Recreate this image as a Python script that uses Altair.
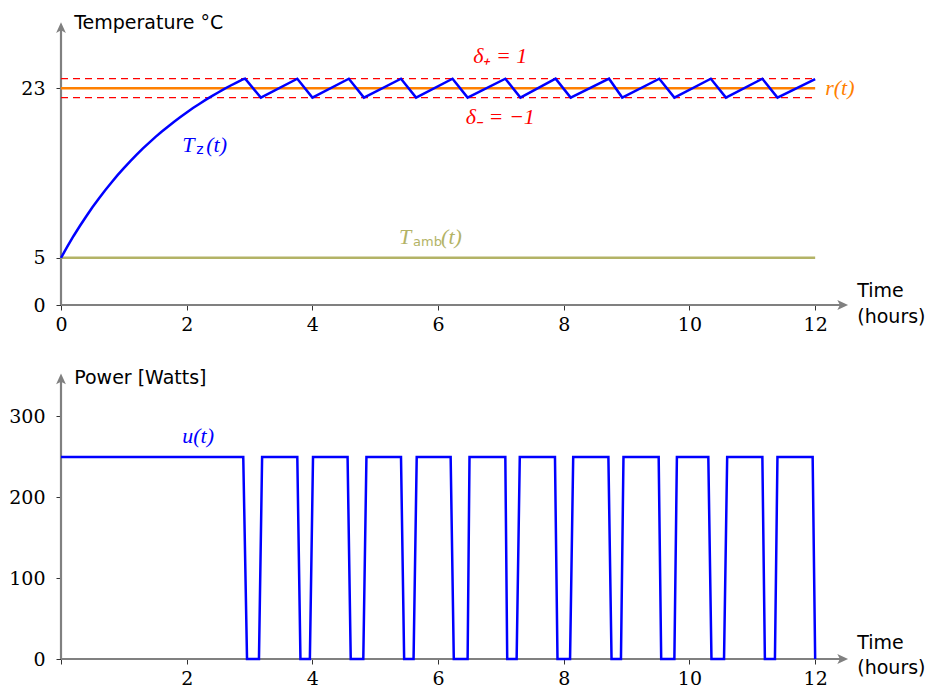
import altair as alt
import pandas as pd

# ---------------- data ----------------
temp_time = [0, 0.1, 0.2, 0.3, 0.4, 0.5, 0.6, 0.7, 0.8, 0.9, 1.0, 1.1, 1.2, 1.3, 1.4,
             1.5, 1.6, 1.7, 1.8, 1.9, 2.0, 2.1, 2.2, 2.3, 2.4, 2.5, 2.6, 2.7, 2.8, 2.9, 2.93,
             3.18, 3.76, 4.00, 4.58, 4.82, 5.41, 5.65, 6.23, 6.47, 7.07, 7.31,
             7.87, 8.11, 8.72, 8.93, 9.52, 9.76, 10.34, 10.58, 11.16, 11.40, 12.0]
temp_value = [5, 6.18, 7.32, 8.38, 9.39, 10.36, 11.28, 12.15, 12.97, 13.77, 14.52, 15.24,
              15.92, 16.58, 17.20, 17.80, 18.37, 18.91, 19.44, 19.94, 20.42, 20.89, 21.32,
              21.75, 22.15, 22.54, 22.92, 23.28, 23.62, 23.95, 24,
              22, 24, 22, 24, 22, 24, 22, 24, 22, 24, 22,
              24, 22, 24, 22, 24, 22, 24, 22, 24, 22, 23.95]

power_time = [0, 2.90, 2.96, 3.15, 3.20, 3.76, 3.81, 3.96, 4.01, 4.56, 4.61, 4.81, 4.86,
              5.41, 5.46, 5.61, 5.66, 6.20, 6.25, 6.47, 6.50, 7.07, 7.10, 7.25, 7.30,
              7.86, 7.90, 8.10, 8.15, 8.71, 8.76, 8.91, 8.95, 9.51, 9.55, 9.76, 9.80,
              10.30, 10.35, 10.55, 10.60, 11.16, 11.20, 11.36, 11.40, 11.96, 12.0]
power_value = [250, 250, 0, 0, 250, 250, 0, 0, 250, 250, 0, 0, 250,
               250, 0, 0, 250, 250, 0, 0, 250, 250, 0, 0, 250,
               250, 0, 0, 250, 250, 0, 0, 250, 250, 0, 0, 250,
               250, 0, 0, 250, 250, 0, 0, 250, 250, 0]

x_ticks = [0, 2, 4, 6, 8, 10, 12]
temp_ticks = [0, 5, 23]
power_ticks = [0, 100, 200, 300]
t_end = 12
t_amb = 5
t_ref = 23
delta_plus = 1
delta_minus = -1

# ---------------- style ----------------
GRAY = "#808080"
BLUE = "#0000ff"
ORANGE = "#ff8000"
RED = "#ff0000"
OLIVE = "#b3b366"
SERIF = "DejaVu Serif"
MATH = "Liberation Serif"
SANS = "DejaVu Sans"

W = 861
X_MAX = 13.7
TOP_H = 297
TOP_MAX = 31.5
BOT_H = 291
BOT_MAX = 360

xscale = alt.Scale(domain=[0, X_MAX], nice=False, zero=False)


def make_xaxis(hide_zero):
    kw = dict(title=None, values=x_ticks, domain=False, grid=False, tickColor="#333333",
              tickWidth=1, tickSize=5, labelFont=SERIF, labelFontSize=19, labelColor="black",
              labelPadding=5, labelFlush=False)
    if hide_zero:
        kw["labelExpr"] = "datum.value == 0 ? '' : datum.label"
    return alt.Axis(**kw)


def make_yaxis(vals):
    return alt.Axis(title=None, values=vals, domain=False, grid=False, tickColor="#333333",
                    tickWidth=1, tickSize=5, labelFont=SERIF, labelFontSize=19,
                    labelColor="black", labelPadding=11)


def panel(ymax, yticks, hide_zero):
    xaxis = make_xaxis(hide_zero)
    yaxis = make_yaxis(yticks)
    ysc = alt.Scale(domain=[0, ymax], nice=False, zero=False)

    def X(f):
        return alt.X(f, type="quantitative", scale=xscale, axis=xaxis)

    def Y(f):
        return alt.Y(f, type="quantitative", scale=ysc, axis=yaxis)

    return X, Y


def text_layer(X, Y, x, y, s, color, font, size, style="normal", align="left", dx=0, dy=0):
    df = pd.DataFrame({"x": [x], "y": [y], "s": [s]})
    return alt.Chart(df).mark_text(align=align, baseline="middle", font=font, fontSize=size,
                                   fontStyle=style, color=color, dx=dx, dy=dy).encode(
        x=X("x"), y=Y("y"), text="s:N")


UP = "M0,-1L0.75,0.65L0,0.25L-0.75,0.65Z"
RIGHT = "M1,0L-0.65,0.75L-0.25,0L-0.65,-0.75Z"


def axes_lines(X, Y, ytip, yhead):
    rules = pd.DataFrame({"x": [0, 0], "x2": [12.42, 0], "y": [0, 0], "y2": [0, ytip]})
    r = alt.Chart(rules).mark_rule(color=GRAY, strokeWidth=2.2).encode(
        x=X("x"), x2="x2", y=Y("y"), y2="y2")
    hx = pd.DataFrame({"x": [12.42], "y": [0]})
    h1 = alt.Chart(hx).mark_point(shape=RIGHT, filled=True, color=GRAY, opacity=1,
                                  size=170, strokeWidth=0).encode(x=X("x"), y=Y("y"))
    hy = pd.DataFrame({"x": [0], "y": [yhead]})
    h2 = alt.Chart(hy).mark_point(shape=UP, filled=True, color=GRAY, opacity=1,
                                  size=170, strokeWidth=0).encode(x=X("x"), y=Y("y"))
    return [r, h1, h2]


# ---------------- top panel ----------------
X1, Y1 = panel(TOP_MAX, temp_ticks, False)
top_layers = axes_lines(X1, Y1, 29.3, 29.3)

hl = pd.DataFrame({"x": [0, 0, 0, 0], "x2": [t_end] * 4,
                   "y": [t_amb, t_ref, t_ref + delta_plus, t_ref + delta_minus],
                   "k": ["amb", "ref", "dp", "dm"]})
top_layers.append(alt.Chart(hl[hl.k == "amb"]).mark_rule(color=OLIVE, strokeWidth=2.5).encode(
    x=X1("x"), x2="x2", y=Y1("y")))
top_layers.append(alt.Chart(hl[hl.k.isin(["dp", "dm"])]).mark_rule(
    color=RED, strokeWidth=1.2, strokeDash=[7, 5]).encode(x=X1("x"), x2="x2", y=Y1("y")))
top_layers.append(alt.Chart(hl[hl.k == "ref"]).mark_rule(color=ORANGE, strokeWidth=2.5).encode(
    x=X1("x"), x2="x2", y=Y1("y")))

tdf = pd.DataFrame({"t": temp_time, "v": temp_value, "o": list(range(len(temp_time)))})
top_layers.append(alt.Chart(tdf).mark_line(color=BLUE, strokeWidth=2.5, strokeJoin="miter").encode(
    x=X1("t"), y=Y1("v"), order="o:Q"))

top_layers += [
    text_layer(X1, Y1, 0.21, 29.9, "Temperature °C", "black", SANS, 19),
    text_layer(X1, Y1, 12.67, 1.5, "Time", "black", SANS, 19),
    text_layer(X1, Y1, 12.67, -1.3, "(hours)", "black", SANS, 19),
    text_layer(X1, Y1, 12.16, 23, "r(t)", ORANGE, MATH, 22, style="italic"),
    text_layer(X1, Y1, 6.99, 26.4, "δ₊ = 1", RED, MATH, 22, style="italic", align="center"),
    text_layer(X1, Y1, 6.99, 19.9, "δ₋ = −1", RED, MATH, 22, style="italic", align="center"),
    text_layer(X1, Y1, 1.93, 17.0, "T", BLUE, MATH, 22, style="italic"),
    text_layer(X1, Y1, 1.93, 17.0, "z", BLUE, SANS, 14, dx=14, dy=5),
    text_layer(X1, Y1, 1.93, 17.0, "(t)", BLUE, MATH, 22, style="italic", dx=24),
    text_layer(X1, Y1, 5.38, 7.24, "T", OLIVE, MATH, 22, style="italic"),
    text_layer(X1, Y1, 5.38, 7.24, "amb", OLIVE, SANS, 13, dx=14, dy=5),
    text_layer(X1, Y1, 5.38, 7.24, "(t)", OLIVE, MATH, 22, style="italic", dx=42),
]
top = alt.layer(*top_layers).properties(width=W, height=TOP_H)

# ---------------- bottom panel ----------------
X2, Y2 = panel(BOT_MAX, power_ticks, True)
bot_layers = axes_lines(X2, Y2, 345, 345)
pdf = pd.DataFrame({"t": power_time, "v": power_value, "o": list(range(len(power_time)))})
bot_layers.append(alt.Chart(pdf).mark_line(color=BLUE, strokeWidth=2.5, strokeJoin="miter").encode(
    x=X2("t"), y=Y2("v"), order="o:Q"))
bot_layers += [
    text_layer(X2, Y2, 0.21, 348, "Power [Watts]", "black", SANS, 19),
    text_layer(X2, Y2, 12.67, 19.8, "Time", "black", SANS, 19),
    text_layer(X2, Y2, 12.67, -11, "(hours)", "black", SANS, 19),
    text_layer(X2, Y2, 1.93, 276, "u(t)", BLUE, MATH, 22, style="italic"),
]
bottom = alt.layer(*bot_layers).properties(width=W, height=BOT_H)

chart = alt.vconcat(top, bottom, spacing=34).properties(
    padding={"left": 0, "top": 0, "right": 0, "bottom": 0},
    background="white",
).configure_view(stroke=None)

chart.save("out.html", embed_options={"renderer": "svg", "actions": False})
